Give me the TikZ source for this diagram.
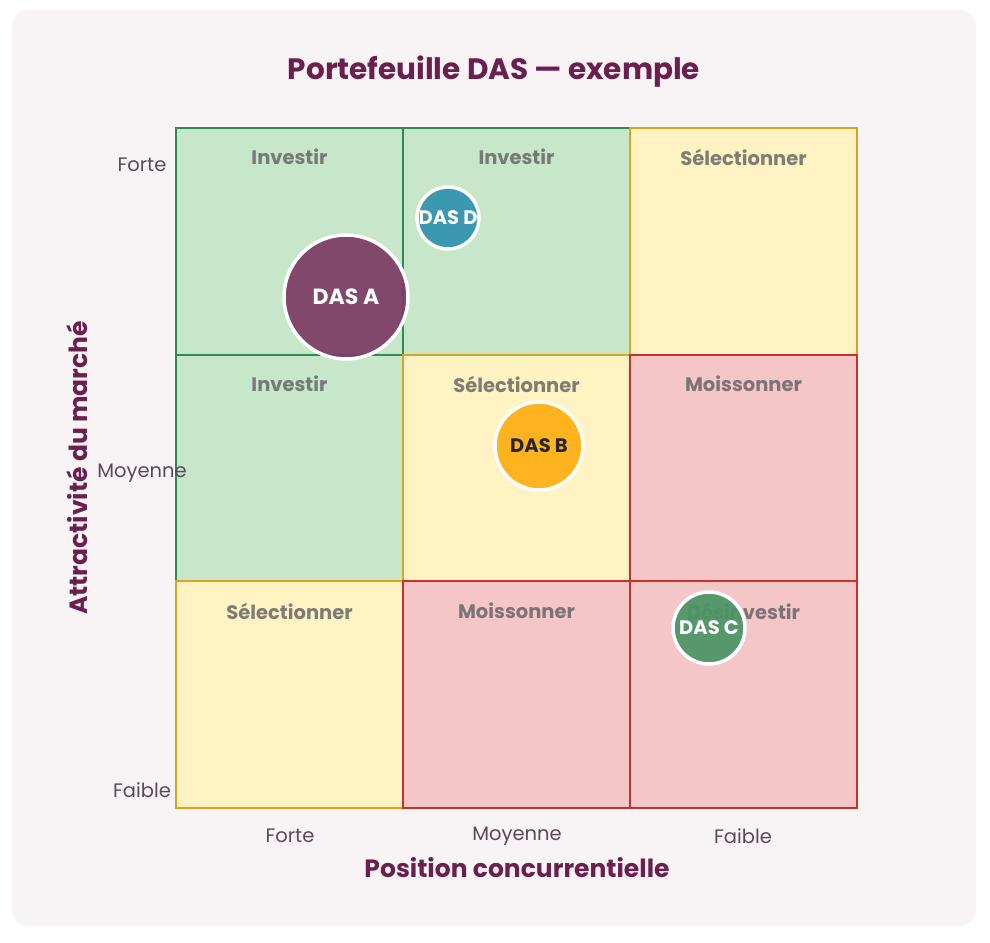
\documentclass[tikz,border=0pt]{standalone}
\usepackage{fontspec}
\setmainfont{Poppins}
\definecolor{bgc}{HTML}{F8F4F6}
\definecolor{gfill}{HTML}{C8E6C9}
\definecolor{gline}{HTML}{2E8B57}
\definecolor{yfill}{HTML}{FFF3C4}
\definecolor{yline}{HTML}{D9A520}
\definecolor{rfill}{HTML}{F4C6C8}
\definecolor{rline}{HTML}{C9302C}
\definecolor{purp}{HTML}{6B1F4F}
\definecolor{axtxt}{HTML}{5A4A55}
\definecolor{lbltxt}{HTML}{5F5F5F}
\definecolor{dasa}{HTML}{7B3B65}
\definecolor{dasd}{HTML}{3A98B0}
\definecolor{dasb}{HTML}{FFB31F}
\definecolor{dasc}{HTML}{4A9464}
\tikzset{
  cell/.style={rectangle, minimum width=227pt, minimum height=227pt, line width=2pt, inner sep=0pt},
  gcell/.style={cell, fill=gfill, draw=gline},
  ycell/.style={cell, fill=yfill, draw=yline},
  rcell/.style={cell, fill=rfill, draw=rline},
  celllabel/.style={font=\fontsize{19.5}{22}\selectfont\bfseries, text=lbltxt, text opacity=0.8, inner sep=0pt},
  tick/.style={font=\fontsize{19.5}{22}\selectfont, text=axtxt, inner sep=0pt},
  axtitle/.style={font=\fontsize{25}{30}\selectfont\bfseries, text=purp, inner sep=0pt},
  bubble/.style={circle, draw=white, line width=3.5pt, inner sep=0pt, font=\fontsize{19.5}{22}\selectfont\bfseries, text=white},
}
\begin{document}
\begin{tikzpicture}[x=1pt, y=-1pt]
\useasboundingbox (0,0) rectangle (990,942);
\fill[bgc] (12,10) [rounded corners=16pt] rectangle (976,926);
\node[font=\fontsize{29.5}{34}\selectfont\bfseries, text=purp, inner sep=0pt] (title) at (494,72) {Portefeuille DAS — exemple};
% cells, row-major order
\node[gcell] (c11) at (289.5,241.5) {};
\node[gcell] (c12) at (516.5,241.5) {};
\node[ycell] (c13) at (743.5,241.5) {};
\node[gcell] (c21) at (289.5,468) {};
\node[ycell] (c22) at (516.5,468) {};
\node[rcell] (c23) at (743.5,468) {};
\node[ycell] (c31) at (289.5,694.5) {};
\node[rcell] (c32) at (516.5,694.5) {};
\node[rcell] (c33) at (743.5,694.5) {};
% cell labels
\node[celllabel] (l11) at (289.5,157) {Investir};
\node[celllabel] (l12) at (516.5,157) {Investir};
\node[celllabel] (l13) at (743.5,157) {Sélectionner};
\node[celllabel] (l21) at (289.5,384) {Investir};
\node[celllabel] (l22) at (516.5,384) {Sélectionner};
\node[celllabel] (l23) at (743.5,384) {Moissonner};
\node[celllabel] (l31) at (289.5,611) {Sélectionner};
\node[celllabel] (l32) at (516.5,611) {Moissonner};
\node[celllabel] (l33) at (743.5,611) {Désinvestir};
% ticks
\node[tick] (ty1) at (142,165) {Forte};
\node[tick] (ty2) at (142,473) {Moyenne};
\node[tick] (ty3) at (142,790) {Faible};
\node[tick] (tx1) at (290,836) {Forte};
\node[tick] (tx2) at (517,836) {Moyenne};
\node[tick] (tx3) at (743,836) {Faible};
% axis titles
\node[axtitle] (xt) at (517,868) {Position concurrentielle};
\node[axtitle, rotate=90] (yt) at (77,468) {Attractivité du marché};
% bubbles
\node[bubble, minimum size=124pt, fill=dasa, fill opacity=0.92, text opacity=1, font=\fontsize{22}{25}\selectfont\bfseries] (dA) at (346,297) {DAS A};
\node[bubble, minimum size=62pt, fill=dasd] (dD) at (448,218) {DAS D};
\node[bubble, minimum size=88pt, fill=dasb, text=black!85] (dB) at (539,446) {DAS B};
\node[bubble, minimum size=72pt, fill=dasc, fill opacity=0.93, text opacity=1] (dC) at (709,628) {DAS C};
\end{tikzpicture}
\end{document}
